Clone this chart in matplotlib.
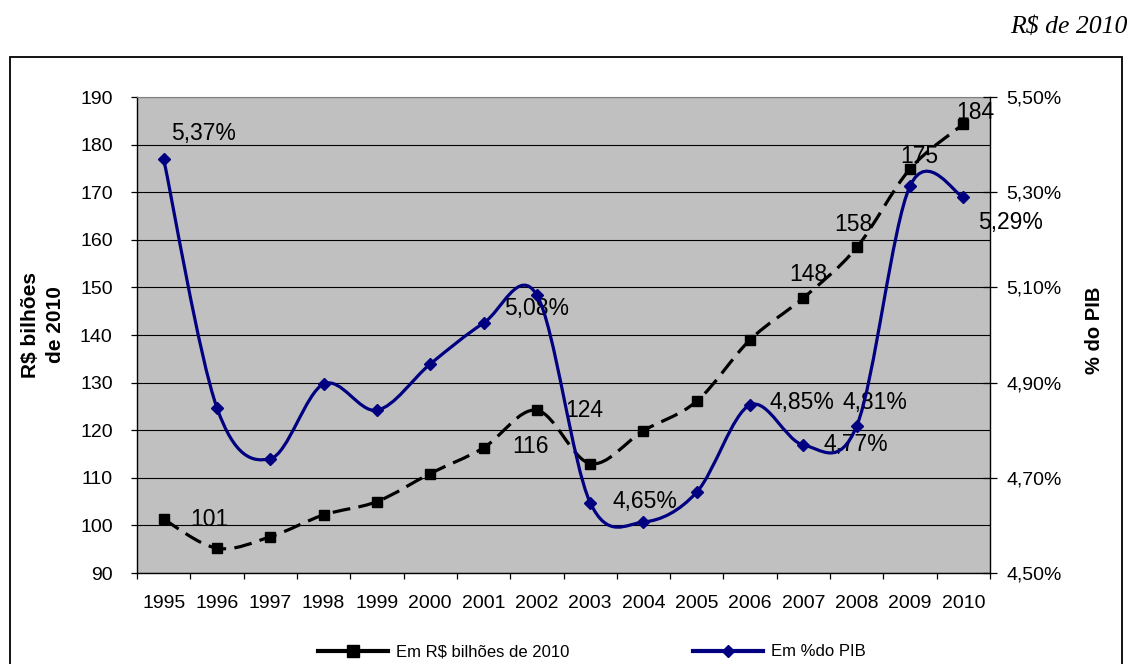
import numpy as np
import matplotlib
matplotlib.use('Agg')
import matplotlib.pyplot as plt
from matplotlib.path import Path
from matplotlib.patches import PathPatch, Rectangle
from matplotlib.lines import Line2D
from matplotlib.ticker import FuncFormatter

# --- data ---
years = [1995, 1996, 1997, 1998, 1999, 2000, 2001, 2002,
         2003, 2004, 2005, 2006, 2007, 2008, 2009, 2010]
rs_bi = [101.3, 95.2, 97.6, 102.2, 105.0, 110.9, 116.3, 124.2,
         113.0, 119.9, 126.1, 139.0, 147.8, 158.4, 174.9, 184.3]
pct_pib = [5.37, 4.847, 4.74, 4.897, 4.842, 4.939, 5.025, 5.084,
           4.648, 4.607, 4.67, 4.853, 4.769, 4.809, 5.313, 5.29]

# which points carry a data label, and where the label sits (pixel offset)
rs_label_pos = {1995: (46, 0), 2001: (47, 1), 2002: (47, 0), 2007: (5, 23),
                2008: (-3, 23), 2009: (9, 12), 2010: (12, 12)}
pct_label_pos = {1995: (40, 25), 2002: (0, -13), 2003: (55, 1), 2006: (52, 2),
                 2007: (52, 0), 2008: (18, 23), 2010: (47, -26)}

plt.rcParams['font.family'] = ['Liberation Sans', 'DejaVu Sans']

W, H = 1134, 664
NAVY = '#000080'


def smooth_path(xs, ys):
    # Excel-like smoothed line: Catmull-Rom segments as cubic Beziers
    n = len(xs)
    verts = [(xs[0], ys[0])]
    codes = [Path.MOVETO]
    for i in range(n - 1):
        p0 = max(i - 1, 0)
        p3 = min(i + 2, n - 1)
        c1 = (xs[i] + (xs[i + 1] - xs[p0]) / 6, ys[i] + (ys[i + 1] - ys[p0]) / 6)
        c2 = (xs[i + 1] - (xs[p3] - xs[i]) / 6, ys[i + 1] - (ys[p3] - ys[i]) / 6)
        verts += [c1, c2, (xs[i + 1], ys[i + 1])]
        codes += [Path.CURVE4] * 3
    return Path(verts, codes)


fig = plt.figure(figsize=(W / 100, H / 100), dpi=100)
ax = fig.add_axes([137 / W, 1 - 573 / H, 853 / W, 476 / H])
ax.set_facecolor('#C0C0C0')

x = np.arange(len(years))
ax.set_xlim(-0.5, len(years) - 0.5)
ax.set_ylim(90, 190)
ax.set_yticks(range(90, 191, 10))
ax.set_xticks(x)
ax.set_xticklabels([str(y) for y in years])
ax.set_xticks(np.arange(-0.5, len(years)), minor=True)
ax.grid(axis='y', color='black', lw=0.8)
ax.set_axisbelow(True)
ax.tick_params(axis='x', which='major', length=0, pad=16, labelsize=14)
ax.tick_params(axis='x', which='minor', length=4.5, width=0.9, direction='out')
ax.tick_params(axis='y', length=4.5, width=0.9, pad=13, labelsize=14)
ax.spines['top'].set_color('#808080')
ax.spines['right'].set_visible(False)
for s in ['left', 'bottom']:
    ax.spines[s].set_linewidth(1.0)

# series 1: R$ bilhoes (black dashed, squares)
ax.add_patch(PathPatch(smooth_path(x, rs_bi), fill=False, edgecolor='black',
                       lw=2.3, linestyle=(0, (5.6, 2.6)), capstyle='butt', zorder=3))
ax.plot(x, rs_bi, ls='none', marker='s', ms=7.5, color='black', zorder=4)
for yr, (dx, dy) in rs_label_pos.items():
    i = years.index(yr)
    ax.annotate(f"{rs_bi[i]:.0f}", (x[i], rs_bi[i]), xytext=(dx, dy),
                textcoords='offset pixels', ha='center', va='center',
                fontsize=16.5, zorder=2.5)

# series 2: % do PIB on secondary axis (navy, diamonds)
ax2 = ax.twinx()
ax2.set_ylim(4.5, 5.5)
ax2.set_yticks(np.arange(4.5, 5.51, 0.2))
ax2.yaxis.set_major_formatter(FuncFormatter(lambda v, p: f"{v:.2f}%".replace('.', ',')))
ax2.tick_params(axis='y', direction='inout', length=9.4, width=0.9, pad=7, labelsize=14)
for s in ['top', 'left', 'bottom']:
    ax2.spines[s].set_visible(False)
ax2.spines['right'].set_linewidth(1.0)

ax2.add_patch(PathPatch(smooth_path(x, pct_pib), fill=False, edgecolor=NAVY,
                        lw=2.3, zorder=3))
ax2.plot(x, pct_pib, ls='none', marker='D', ms=6, color=NAVY, zorder=4)
for yr, (dx, dy) in pct_label_pos.items():
    i = years.index(yr)
    ax2.annotate(f"{pct_pib[i]:.2f}%".replace('.', ','), (x[i], pct_pib[i]),
                 xytext=(dx, dy), textcoords='offset pixels', ha='center',
                 va='center', fontsize=16.5, zorder=2.5)

# axis titles
fig.text(43 / W, 1 - 325 / H, 'R$ bilhões\nde 2010', rotation=90, fontweight='bold',
         fontsize=15, ha='center', va='center', multialignment='center',
         linespacing=1.35)
fig.text(1094 / W, 1 - 330 / H, '% do PIB', rotation=90, fontweight='bold',
         fontsize=14.5, ha='center', va='center')
fig.text(1128 / W, 1 - 27 / H, 'R$ de 2010', family='Liberation Serif',
         style='italic', fontsize=18.5, ha='right', va='center')

# chart frame (runs off the bottom of the picture)
fig.patches.append(Rectangle((10 / W, -0.05), (1122 - 10) / W, 0.05 + 1 - 57 / H,
                             transform=fig.transFigure, fill=False,
                             edgecolor='black', lw=1.3))

handles = [Line2D([], [], color='black', lw=3, marker='s', ms=8),
           Line2D([], [], color=NAVY, lw=3, marker='D', ms=6)]
fig.legend(handles, ['Em R$ bilhões de 2010', 'Em %do PIB'], loc='center',
           bbox_to_anchor=(592 / W, 1 - 652 / H), ncol=2, frameon=False,
           fontsize=12, handlelength=4.2, handletextpad=0.5, columnspacing=7.4)

fig.savefig('out.png', dpi=100)
